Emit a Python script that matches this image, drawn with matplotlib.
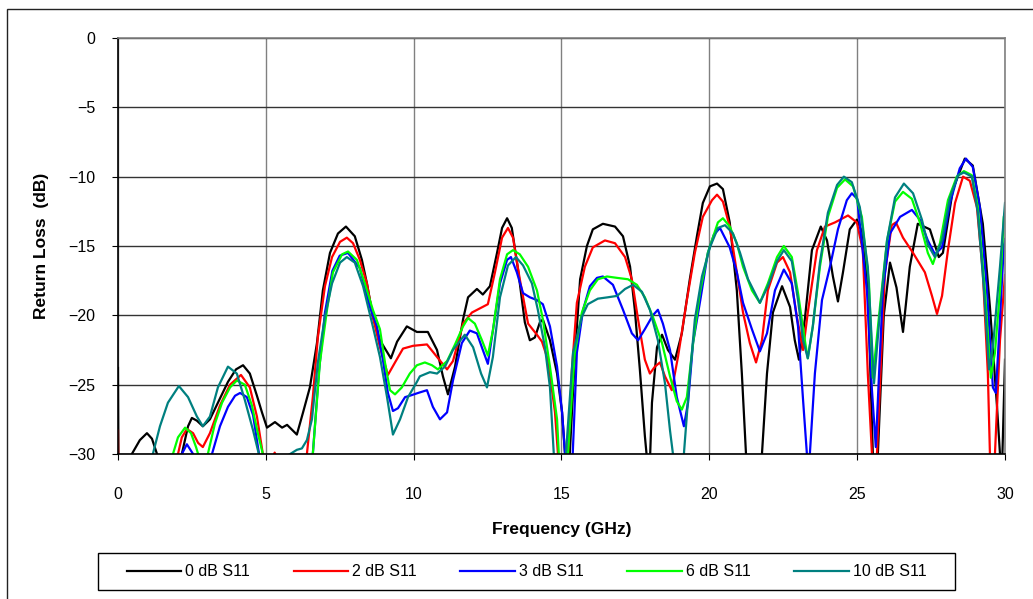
import matplotlib
matplotlib.use("Agg")
import matplotlib.pyplot as plt
from matplotlib.patches import Rectangle

plt.rcParams['font.family'] = ['Liberation Sans', 'DejaVu Sans']

# curves (GHz, dB); values below -30 run off the plot
f_0db = [0.0, 0.02, 0.3, 0.47, 0.74, 0.98, 1.15, 1.32, 1.6, 1.9, 2.16, 2.37, 2.5, 2.67, 2.87,
         3.11, 3.38, 3.72, 3.99, 4.23, 4.46, 4.7, 4.87, 5.04, 5.31, 5.55, 5.72, 6.05,
         6.26, 6.49, 6.73, 6.93, 7.17, 7.44, 7.71, 8.01, 8.25, 8.42, 8.62, 8.86, 9.03,
         9.23, 9.44, 9.77, 10.11, 10.48, 10.79, 10.99, 11.16, 11.4, 11.67, 11.84, 12.14,
         12.34, 12.58, 12.82, 12.99, 13.16, 13.32, 13.53, 13.76, 13.93, 14.1, 14.27,
         14.37, 14.61, 14.85, 15.02, 15.12, 15.2, 15.28, 15.39, 15.5, 15.63, 15.86,
         16.06, 16.4, 16.81, 17.08, 17.32, 17.48, 17.65, 17.82, 17.92, 18.0, 18.06,
         18.23, 18.4, 18.6, 18.84, 19.07, 19.34, 19.58, 19.78, 20.02, 20.26, 20.46,
         20.69, 20.93, 21.1, 21.24, 21.5, 21.78, 21.95, 22.15, 22.46, 22.73, 22.89,
         23.03, 23.23, 23.47, 23.77, 23.98, 24.18, 24.35, 24.52, 24.75, 24.99, 25.19,
         25.36, 25.53, 25.6, 25.7, 25.9, 26.11, 26.33, 26.55, 26.78, 27.05, 27.46,
         27.76, 27.9, 28.24, 28.64, 28.91, 29.25, 29.49, 29.73, 29.83, 29.9, 30.0]
rl_0db = [-23.8, -33, -33, -30, -29.0, -28.5, -28.9, -30, -33, -33, -30, -28.0, -27.4,
          -27.6, -28.0, -27.5, -26.3, -24.8, -23.9, -23.6, -24.2, -25.8, -27.0, -28.1,
          -27.7, -28.1, -27.9, -28.6, -27.0, -25.2, -22.0, -18.2, -15.5, -14.1, -13.6,
          -14.3, -16.0, -17.7, -20.1, -21.8, -22.4, -23.1, -21.9, -20.8, -21.2, -21.2,
          -22.5, -24.4, -25.7, -23.7, -20.3, -18.7, -18.1, -18.5, -17.9, -15.5, -13.7,
          -13.0, -13.7, -16.7, -20.5, -21.8, -21.6, -20.5, -20.3, -21.8, -24.2, -27.0,
          -30, -32, -30, -25.5, -21.5, -17.4, -15.0, -13.8, -13.4, -13.6, -14.3, -16.5,
          -19.6, -23.9, -28.7, -31, -30, -26.3, -22.3, -21.4, -22.5, -23.2, -21.3, -17.4,
          -14.3, -11.9, -10.7, -10.5, -10.9, -13.3, -18.2, -24.2, -30, -34, -30, -24.2,
          -19.8, -17.9, -19.4, -21.8, -23.2, -20.3, -15.3, -13.6, -14.6, -17.2, -19.0,
          -16.9, -13.8, -13.1, -14.1, -18.0, -30, -33, -30, -20.0, -16.2, -18.0, -21.2,
          -16.5, -13.4, -13.8, -15.8, -15.5, -10.9, -8.7, -9.2, -13.4, -19.4, -26.6, -30,
          -31, -23.2]

f_2db = [0.0, 0.02, 1.0, 2.03, 2.16, 2.33, 2.54, 2.71, 2.87, 3.11, 3.45, 3.79, 4.16, 4.46,
         4.7, 4.9, 5.1, 5.3, 5.5, 6.0, 6.39, 6.59, 6.76, 7.0, 7.24, 7.51, 7.74, 7.95,
         8.18, 8.42, 8.62, 8.86, 9.13, 9.37, 9.64, 9.98, 10.45, 10.79, 11.13, 11.33,
         11.67, 11.97, 12.24, 12.51, 12.75, 12.99, 13.19, 13.36, 13.59, 13.87, 14.17,
         14.34, 14.54, 14.78, 14.88, 15.05, 15.22, 15.35, 15.52, 15.79, 16.06, 16.47,
         16.81, 17.15, 17.38, 17.59, 17.82, 17.99, 18.16, 18.33, 18.5, 18.73, 18.94,
         19.24, 19.51, 19.78, 20.09, 20.26, 20.46, 20.69, 20.93, 21.14, 21.37, 21.58,
         21.78, 21.98, 22.29, 22.49, 22.73, 22.96, 23.17, 23.33, 23.64, 23.91, 24.25,
         24.69, 24.99, 25.19, 25.36, 25.5, 25.58, 25.67, 25.94, 26.17, 26.31, 26.55,
         26.89, 27.29, 27.53, 27.7, 27.87, 28.07, 28.31, 28.58, 28.81, 29.05, 29.25,
         29.42, 29.49, 29.58, 29.66, 29.83, 30.0]
rl_2db = [-28.3, -33, -33, -30, -28.8, -28.2, -28.5, -29.2, -29.5, -28.5, -26.5, -25.0,
          -24.3, -25.2, -27.3, -30, -31, -29.9, -31, -33, -30, -25.9, -21.6, -17.9, -15.8,
          -14.7, -14.4, -14.8, -16.0, -17.7, -20.1, -22.3, -24.3, -23.4, -22.4, -22.2,
          -22.1, -23.0, -23.9, -23.3, -20.6, -19.8, -19.5, -19.2, -16.9, -14.4, -13.7,
          -14.4, -17.4, -20.6, -21.4, -21.9, -23.2, -27.0, -30, -34, -30, -24.0, -19.1,
          -16.5, -15.1, -14.6, -14.8, -15.8, -17.4, -20.3, -23.2, -24.2, -23.7, -23.4,
          -24.4, -25.4, -23.0, -18.9, -15.5, -12.9, -11.7, -11.3, -11.8, -13.6, -16.9,
          -19.8, -22.0, -23.4, -21.8, -18.2, -16.2, -15.8, -16.9, -20.1, -22.5, -19.8,
          -15.3, -13.6, -13.3, -12.8, -13.3, -15.3, -24.2, -30, -33, -30, -16.9, -13.5,
          -13.3, -14.4, -15.5, -16.9, -18.6, -19.9, -18.6, -15.3, -11.9, -10.0, -10.3,
          -12.2, -16.9, -24.2, -30, -33, -30, -21.8, -17.1]

f_3db = [2.0, 2.16, 2.33, 2.54, 2.7, 3.0, 3.18, 3.45, 3.72, 3.96, 4.13, 4.36, 4.57, 4.77,
         5.0, 6.4, 6.59, 6.8, 7.0, 7.25, 7.5, 7.78, 8.18, 8.52, 8.76, 8.96, 9.13, 9.3,
         9.47, 9.71, 9.87, 10.15, 10.45, 10.65, 10.89, 11.13, 11.33, 11.63, 11.9, 12.14,
         12.34, 12.51, 12.68, 12.92, 13.16, 13.29, 13.49, 13.7, 13.93, 14.17, 14.37,
         14.61, 14.85, 15.02, 15.12, 15.25, 15.38, 15.52, 15.73, 15.96, 16.2, 16.4,
         16.74, 17.08, 17.38, 17.59, 17.82, 18.09, 18.26, 18.43, 18.67, 18.9, 19.14,
         19.28, 19.45, 19.71, 19.95, 20.15, 20.36, 20.69, 20.93, 21.14, 21.44, 21.71,
         21.95, 22.22, 22.52, 22.79, 23.0, 23.17, 23.3, 23.35, 23.4, 23.57, 23.81, 24.08,
         24.35, 24.65, 24.82, 25.0, 25.33, 25.5, 25.63, 25.74, 25.87, 26.11, 26.45,
         26.85, 27.12, 27.39, 27.63, 27.87, 28.14, 28.47, 28.68, 28.91, 29.15, 29.39,
         29.59, 29.69, 29.79, 29.96, 30.0]
rl_3db = [-33, -30, -29.3, -30, -33, -33, -30, -28.0, -26.6, -25.8, -25.6, -25.9, -27.2,
          -30, -33, -33, -30, -24.0, -19.8, -16.8, -15.7, -15.5, -16.6, -19.4, -20.8,
          -23.2, -25.6, -26.9, -26.7, -25.9, -25.8, -25.6, -25.4, -26.6, -27.5, -27.0,
          -24.7, -22.0, -21.1, -21.3, -22.5, -23.5, -21.1, -17.7, -16.0, -15.8, -16.9,
          -18.4, -18.7, -18.9, -19.2, -20.8, -23.7, -27.0, -30, -34, -30, -22.7, -19.6,
          -17.9, -17.3, -17.2, -17.8, -19.6, -21.3, -21.8, -21.0, -20.0, -19.6, -20.6,
          -22.5, -25.9, -28.0, -26.3, -22.0, -18.7, -15.5, -14.2, -13.7, -15.1, -16.9,
          -19.1, -21.0, -22.6, -21.3, -18.2, -16.7, -17.7, -20.8, -26.1, -30, -34, -30,
          -24.2, -18.9, -16.5, -13.8, -11.7, -11.2, -11.6, -18.2, -25.4, -29.5, -24.2,
          -18.2, -14.1, -12.9, -12.4, -13.1, -14.6, -15.6, -15.1, -11.9, -9.4, -8.7, -9.3,
          -12.2, -18.2, -25.2, -25.6, -21.8, -15.0, -14.5]

f_6db = [1.7, 1.86, 2.03, 2.27, 2.47, 2.64, 2.71, 2.85, 3.04, 3.28, 3.52, 3.79, 4.02, 4.29,
         4.53, 4.73, 4.9, 5.1, 6.4, 6.59, 6.83, 7.07, 7.27, 7.58, 7.78, 8.08, 8.35, 8.62,
         8.86, 9.03, 9.2, 9.37, 9.6, 9.87, 10.11, 10.38, 10.62, 10.82, 11.13, 11.4,
         11.67, 11.84, 12.07, 12.31, 12.51, 12.68, 12.92, 13.16, 13.36, 13.59, 13.87,
         14.17, 14.37, 14.61, 14.85, 14.91, 15.05, 15.22, 15.45, 15.69, 15.96, 16.23,
         16.54, 16.88, 17.25, 17.55, 17.82, 18.09, 18.4, 18.67, 18.9, 19.07, 19.24,
         19.45, 19.68, 19.95, 20.29, 20.46, 20.69, 20.93, 21.14, 21.44, 21.71, 21.98,
         22.29, 22.52, 22.79, 23.0, 23.23, 23.33, 23.5, 23.74, 24.01, 24.32, 24.59,
         24.86, 25.16, 25.4, 25.53, 25.77, 26.01, 26.28, 26.55, 26.85, 27.12, 27.39,
         27.56, 27.8, 28.07, 28.37, 28.61, 28.88, 29.08, 29.32, 29.52, 29.66, 29.83, 29.96,
         30.0]
rl_6db = [-33, -30, -28.8, -28.1, -28.5, -29.5, -30, -31.5, -30, -27.8, -26.3, -25.2,
          -24.7, -25.0, -26.5, -28.5, -30, -33, -33, -30, -23.4, -19.6, -16.9, -15.6,
          -15.4, -16.0, -17.7, -19.6, -21.0, -23.4, -25.4, -25.7, -25.2, -24.2, -23.6,
          -23.4, -23.6, -23.9, -23.3, -22.1, -20.8, -20.2, -20.6, -21.8, -22.9, -21.1,
          -17.4, -15.6, -15.3, -15.6, -16.5, -18.2, -20.3, -23.7, -27.5, -30, -34, -30,
          -22.7, -19.8, -18.2, -17.4, -17.2, -17.3, -17.4, -17.8, -18.7, -20.1, -22.0,
          -24.4, -26.2, -26.8, -25.9, -22.0, -18.4, -15.5, -13.3, -13.0, -13.6, -14.8,
          -16.5, -18.2, -19.1, -17.7, -15.8, -15.0, -15.8, -18.4, -21.8, -23.1, -20.8,
          -16.5, -12.9, -10.8, -10.2, -10.7, -12.9, -17.7, -24.5, -19.4, -14.6, -11.8,
          -11.1, -11.6, -13.3, -15.5, -16.3, -14.8, -11.7, -10.0, -9.6, -9.9, -12.2, -18.2,
          -24.5, -22.7, -18.2, -12.9, -12.6]

f_10db = [1.0, 1.18, 1.42, 1.69, 2.06, 2.37, 2.67, 2.87, 3.11, 3.38, 3.72, 4.02, 4.29,
          4.57, 4.73, 4.9, 5.2, 5.75, 6.05, 6.22, 6.39, 6.56, 6.76, 7.0, 7.24, 7.51, 7.74,
          8.01, 8.29, 8.62, 8.86, 9.1, 9.3, 9.54, 9.81, 10.11, 10.21, 10.55, 10.79, 11.06,
          11.33, 11.73, 12.01, 12.28, 12.48, 12.68, 12.92, 13.19, 13.46, 13.7, 14.0, 14.2,
          14.44, 14.61, 14.74, 14.9, 15.0, 15.15, 15.39, 15.69, 15.89, 16.23, 16.57,
          16.88, 17.15, 17.42, 17.72, 17.99, 18.26, 18.5, 18.67, 18.77, 18.95, 19.14,
          19.34, 19.51, 19.75, 20.02, 20.29, 20.53, 20.8, 21.04, 21.31, 21.71, 21.98,
          22.29, 22.52, 22.79, 23.0, 23.17, 23.33, 23.5, 23.74, 24.01, 24.32, 24.55,
          24.82, 25.09, 25.36, 25.57, 25.77, 26.01, 26.28, 26.58, 26.89, 27.19, 27.39,
          27.63, 27.87, 28.14, 28.41, 28.61, 28.88, 29.08, 29.29, 29.46, 29.59, 29.83,
          30.0]
rl_10db = [-33, -30, -28.0, -26.3, -25.1, -25.9, -27.3, -28.0, -27.3, -25.2, -23.7, -24.2,
           -26.1, -28.3, -29.7, -31, -33, -30.1, -29.7, -29.6, -29.0, -27.5, -23.4, -20.1,
           -17.7, -16.2, -15.8, -16.2, -17.9, -20.8, -23.0, -25.9, -28.6, -27.5, -25.9,
           -24.8, -24.4, -24.1, -24.2, -23.7, -22.5, -21.4, -22.3, -24.2, -25.2, -23.0,
           -18.7, -16.4, -15.8, -16.4, -17.7, -19.6, -22.3, -25.2, -30, -33, -33, -30,
           -22.7, -20.1, -19.2, -18.8, -18.7, -18.6, -18.1, -17.8, -18.3, -19.6, -21.8,
           -24.9, -28.3, -30, -32, -30, -24.4, -20.3, -17.2, -15.1, -13.7, -13.5, -14.1,
           -15.5, -17.4, -19.1, -17.9, -16.1, -15.3, -16.1, -18.9, -21.8, -23.1, -20.8,
           -16.2, -12.6, -10.6, -10.0, -10.4, -12.2, -16.5, -24.9, -19.8, -14.6, -11.5,
           -10.5, -11.2, -13.1, -14.9, -15.8, -14.6, -11.5, -9.9, -9.7, -10.0, -12.6,
           -18.2, -23.9, -22.3, -16.5, -11.9]

series = [
    (f_0db, rl_0db, '0 dB S11', 'black'),
    (f_2db, rl_2db, '2 dB S11', '#FF0000'),
    (f_3db, rl_3db, '3 dB S11', '#0000FF'),
    (f_6db, rl_6db, '6 dB S11', '#00FF00'),
    (f_10db, rl_10db, '10 dB S11', '#008080'),
]

fig = plt.figure(figsize=(10.33, 5.99), dpi=100)
ax = fig.add_axes([0.1142, 0.2421, 0.8587, 0.6945])

# outer chart border (only top and left edges fall inside the image)
fig.patches.append(Rectangle((7 / 1033, -0.1), 1.2, 1 - 9 / 599 + 0.1,
                             transform=fig.transFigure, fill=False,
                             edgecolor='#222222', linewidth=1.0))

for f, rl, name, col in series:
    ax.plot(f, rl, color=col, linewidth=1.6, label=name)

ax.set_xlim(0, 30)
ax.set_ylim(-30, 0)
ax.set_xticks(range(0, 31, 5))
ax.set_yticks(range(-30, 1, 5))

ax.xaxis.grid(True, color='#808080', linewidth=1.0)
ax.yaxis.grid(True, color='#333333', linewidth=1.0)
ax.set_axisbelow(True)

ax.spines['top'].set_color('#808080')
ax.spines['right'].set_color('#808080')
ax.spines['left'].set_color('black')
ax.spines['bottom'].set_color('black')
for s in ax.spines.values():
    s.set_linewidth(1.2)

ax.tick_params(axis='y', direction='out', length=4, pad=12, labelsize=11.5)
ax.tick_params(axis='x', direction='out', length=4, pad=20, labelsize=11.5)

ax.set_xlabel('Frequency (GHz)', fontsize=12.5, fontweight='bold', labelpad=14)
ax.set_ylabel('Return Loss  (dB)', fontsize=12.5, fontweight='bold', labelpad=14)

# legend box drawn separately so its padding matches the reference
fig.patches.append(Rectangle((98 / 1033, 1 - 590 / 599), 857 / 1033, 37 / 599,
                             transform=fig.transFigure, fill=False,
                             edgecolor='black', linewidth=1.0))
fig.legend(loc='center', bbox_to_anchor=(526.5 / 1033, 1 - 572 / 599), ncol=5,
           fontsize=11.5, frameon=False, handlelength=3.4, columnspacing=2.75,
           handletextpad=0.25)

fig.savefig('out.png', dpi=100)
